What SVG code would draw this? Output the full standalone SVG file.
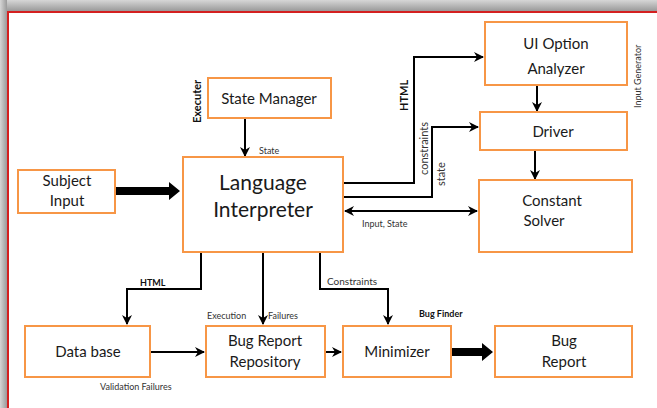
<svg xmlns="http://www.w3.org/2000/svg" width="657" height="408" viewBox="0 0 657 408">
  <defs>
    <linearGradient id="topShade" x1="0" y1="0" x2="0" y2="1">
      <stop offset="0" stop-color="#d6d6d6"/>
      <stop offset="1" stop-color="#9a9a9a"/>
    </linearGradient>
    <linearGradient id="leftShade" x1="0" y1="0" x2="1" y2="0">
      <stop offset="0" stop-color="#d6d6d6"/>
      <stop offset="1" stop-color="#9a9a9a"/>
    </linearGradient>
    <marker id="arr" viewBox="0 0 10 10" refX="9" refY="5" markerWidth="5" markerHeight="5" orient="auto-start-reverse" markerUnits="strokeWidth">
      <path d="M0,0 L10,5 L0,10 L3,5 Z" fill="#000"/>
    </marker>
    <style>
      .box { fill: #fff; stroke: #f79646; stroke-width: 2; }
      .lbl { font-family: Lato, "Liberation Sans", sans-serif; fill: #1a1a1a; text-anchor: middle; }
      .big { font-size: 15px; }
      .huge { font-size: 21px; }
      .small { font-family: Lato, "Liberation Sans", sans-serif; font-size: 9px; fill: #333; }
      .sbold { font-family: Lato, "Liberation Sans", sans-serif; font-size: 9px; font-weight: bold; fill: #111; }
      .wire { fill: none; stroke: #000; stroke-width: 2; }
    </style>
  </defs>

  <!-- page frame -->
  <rect x="0" y="0" width="657" height="408" fill="#fff"/>
  <rect x="0" y="0" width="657" height="11" fill="url(#topShade)"/>
  <rect x="0" y="0" width="7" height="408" fill="url(#leftShade)"/>
  <path d="M8,408 V12 H657" fill="none" stroke="#d42020" stroke-width="2"/>

  <!-- connectors -->
  <g id="connectors">
    <line class="wire" x1="245" y1="118" x2="245" y2="156" marker-end="url(#arr)"/>
    <text class="small" x="259" y="154">State</text>

    <path class="wire" d="M343,183 H414 V57 H483" marker-end="url(#arr)"/>
    <text class="sbold" style="font-size:11px" transform="translate(408,111) rotate(-90)">HTML</text>

    <path class="wire" d="M343,197 H432 V127 H478" marker-end="url(#arr)"/>
    <text class="small" style="font-size:11px" transform="translate(428,175) rotate(-90)">constraints</text>
    <text class="small" style="font-size:11px" transform="translate(445,186) rotate(-90)">state</text>

    <line class="wire" x1="345" y1="211" x2="477" y2="211" marker-start="url(#arr)" marker-end="url(#arr)"/>
    <text class="small" x="362" y="227">Input, State</text>

    <line class="wire" x1="537" y1="85" x2="537" y2="111" marker-end="url(#arr)"/>
    <line class="wire" x1="535" y1="150" x2="535" y2="179" marker-end="url(#arr)"/>

    <path d="M115,187 H169 V182 L180,191 L169,200 V195 H115 Z" fill="#000"/>

    <path class="wire" d="M201,252 V289 H127 V324" marker-end="url(#arr)"/>
    <text class="sbold" x="140" y="286">HTML</text>

    <line class="wire" x1="263" y1="252" x2="263" y2="324" marker-end="url(#arr)"/>
    <text class="small" x="207" y="319">Execution</text>
    <text class="small" x="268" y="319">Failures</text>

    <path class="wire" d="M320,252 V289 H388 V324" marker-end="url(#arr)"/>
    <text class="small" style="font-size:10px" x="327" y="285">Constraints</text>

    <line class="wire" x1="150" y1="352" x2="204" y2="352" marker-end="url(#arr)"/>
    <line class="wire" x1="326" y1="352" x2="341" y2="352" marker-end="url(#arr)"/>
    <path d="M452,348 H482 V343 L493,352 L482,361 V356 H452 Z" fill="#000"/>
  </g>

  <!-- nodes -->
  <g id="ui-option-analyzer">
    <rect class="box" x="485" y="22" width="142" height="63"/>
    <text class="lbl big" x="556" y="49">UI Option</text>
    <text class="lbl big" x="556" y="74">Analyzer</text>
    <text class="small" transform="translate(641,108) rotate(-90)">Input Generator</text>
  </g>

  <g id="driver">
    <rect class="box" x="480" y="112" width="147" height="38"/>
    <text class="lbl big" x="553" y="137">Driver</text>
  </g>

  <g id="constant-solver">
    <rect class="box" x="479" y="180" width="153" height="72"/>
    <text class="lbl big" x="552" y="206">Constant</text>
    <text class="lbl big" x="544" y="226">Solver</text>
  </g>

  <g id="state-manager">
    <rect class="box" x="208" y="78" width="123" height="40"/>
    <text class="lbl big" x="269" y="104">State Manager</text>
    <text class="sbold" style="font-size:11px" transform="translate(201,123) rotate(-90)">Executer</text>
  </g>

  <g id="language-interpreter">
    <rect class="box" x="183" y="157" width="160" height="95"/>
    <text class="lbl huge" x="263" y="190">Language</text>
    <text class="lbl huge" x="263" y="217">Interpreter</text>
  </g>

  <g id="subject-input">
    <rect class="box" x="18" y="170" width="97" height="43"/>
    <text class="lbl big" x="67" y="186">Subject</text>
    <text class="lbl big" x="67" y="206">Input</text>
  </g>

  <g id="data-base">
    <rect class="box" x="25" y="326" width="125" height="51"/>
    <text class="lbl big" x="88" y="357">Data base</text>
    <text class="small" x="100" y="390">Validation Failures</text>
  </g>

  <g id="bug-report-repository">
    <rect class="box" x="206" y="326" width="119" height="51"/>
    <text class="lbl big" x="265" y="346">Bug Report</text>
    <text class="lbl big" x="265" y="367">Repository</text>
  </g>

  <g id="minimizer">
    <rect class="box" x="343" y="326" width="108" height="51"/>
    <text class="lbl big" x="397" y="357">Minimizer</text>
    <text class="sbold" x="419" y="317">Bug Finder</text>
  </g>

  <g id="bug-report">
    <rect class="box" x="495" y="326" width="137" height="51"/>
    <text class="lbl big" x="564" y="346">Bug</text>
    <text class="lbl big" x="564" y="367">Report</text>
  </g>
</svg>
